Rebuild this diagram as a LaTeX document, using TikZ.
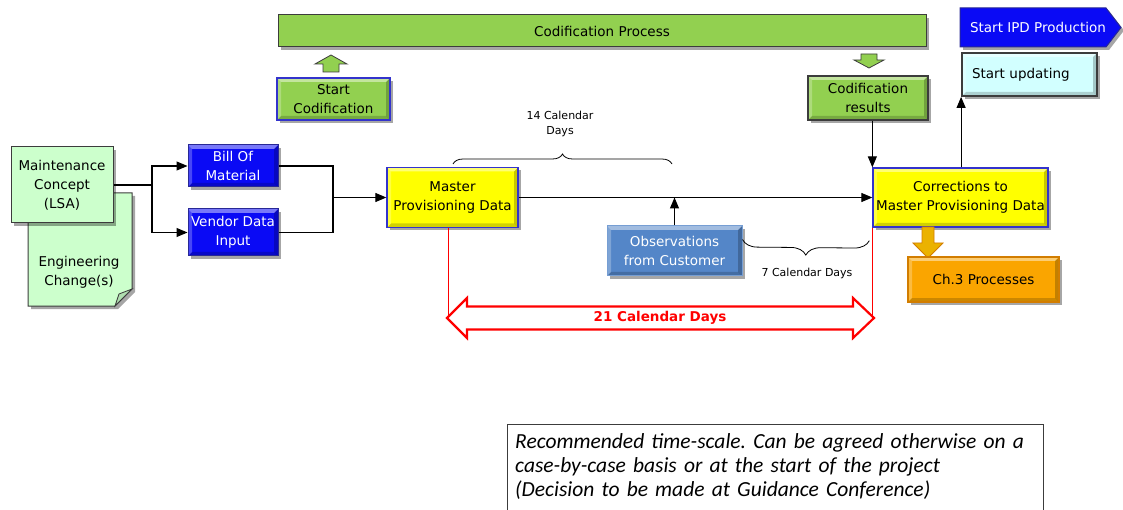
\documentclass[tikz,border=0pt]{standalone}
\usepackage{fontspec}
\setmainfont{DejaVu Sans}
\newfontfamily\notefont{Carlito}
\usetikzlibrary{arrows.meta,shadows,calc,decorations.pathreplacing}

\definecolor{cgreen}{RGB}{146,208,80}
\definecolor{cpale}{RGB}{204,255,204}
\definecolor{cfold}{RGB}{175,222,175}
\definecolor{cblue}{RGB}{10,10,245}
\definecolor{cbluedk}{RGB}{40,40,150}
\definecolor{cyel}{RGB}{255,255,0}
\definecolor{cyeldk}{RGB}{51,51,204}
\definecolor{cobs}{RGB}{84,134,200}
\definecolor{corg}{RGB}{250,165,0}
\definecolor{corgdk}{RGB}{210,125,0}
\definecolor{cgold}{RGB}{235,178,0}
\definecolor{ccyan}{RGB}{210,255,255}
\definecolor{cline}{RGB}{60,60,60}

\tikzset{
  shade3d/.style={drop shadow={shadow xshift=3pt,shadow yshift=-3pt,opacity=.35,fill=black}},
  bevel/.style={path picture={
    \fill[white,opacity=.45] (path picture bounding box.north west) -- (path picture bounding box.north east)
      -- ($(path picture bounding box.north east)+(-4pt,-4pt)$) -- ($(path picture bounding box.north west)+(4pt,-4pt)$) -- cycle;
    \fill[white,opacity=.25] (path picture bounding box.north west) -- (path picture bounding box.south west)
      -- ($(path picture bounding box.south west)+(4pt,4pt)$) -- ($(path picture bounding box.north west)+(4pt,-4pt)$) -- cycle;
    \fill[black,opacity=.18] (path picture bounding box.south west) -- (path picture bounding box.south east)
      -- ($(path picture bounding box.south east)+(-4pt,4pt)$) -- ($(path picture bounding box.south west)+(4pt,4pt)$) -- cycle;
    \fill[black,opacity=.22] (path picture bounding box.north east) -- (path picture bounding box.south east)
      -- ($(path picture bounding box.south east)+(-4pt,4pt)$) -- ($(path picture bounding box.north east)+(-4pt,-4pt)$) -- cycle;
  }},
  box/.style={draw, line width=1pt, align=center, inner sep=2pt, shade3d},
  greenbox/.style={box, bevel, fill=cgreen, draw=cline, line width=1.5pt},
  bluebox/.style={box, bevel, fill=cblue, draw=cbluedk, text=white},
  yelbox/.style={box, bevel, fill=cyel, draw=cyeldk, line width=1.3pt},
  flow/.style={line width=1.1pt, -{Triangle[length=11pt,width=9pt]}},
  plain/.style={line width=1.1pt},
  brc/.style={decorate, line width=.8pt},
  small/.style={font=\fontsize{11}{15}\selectfont, align=center},
}

\begin{document}
\begin{tikzpicture}[x=1pt, y=-1pt, font=\fontsize{13.5}{19}\selectfont]
\clip (0,0) rectangle (1123,510);
\fill[white] (0,0) rectangle (1123,510);

% codification band and its two block arrows
\node[box, fill=cgreen, draw=cline, minimum width=648pt, minimum height=32pt] (codproc) at (602,31) {Codification Process};
\filldraw[fill=cgreen, draw=cline, line width=.8pt]
  (331,55) -- (347,64) -- (339,64) -- (339,72) -- (323,72) -- (323,64) -- (315,64) -- cycle;
\filldraw[fill=cgreen, draw=cline, line width=.8pt]
  (869,68) -- (884,60) -- (877,60) -- (877,54) -- (861,54) -- (861,60) -- (854,60) -- cycle;

\node[greenbox, draw=cyeldk, minimum width=113pt, minimum height=42pt] (startcod) at (333.5,99) {Start\\Codification};
\node[greenbox, minimum width=120pt, minimum height=44pt] (codres) at (868,98) {Codification\\results};

% IPD production flag and updating box
\filldraw[fill=cblue, draw=cbluedk, line width=1pt, shade3d]
  (960,8) -- (1106,8) -- (1121,27.5) -- (1106,47) -- (960,47) -- cycle;
\node[text=white] (ipd) at (1038,27.5) {Start IPD Production};
\node[box, bevel, fill=ccyan, draw=cline, line width=1.8pt, minimum width=135pt, minimum height=43pt,
      text width=115pt, align=left, inner xsep=10pt] (upd) at (1029.5,74.5) {Start updating};

% sources
\filldraw[fill=cpale, draw=cline, line width=1pt, shade3d]
  (28,193) -- (132,193) -- (132,289) -- (115,306) -- (28,306) -- cycle;
\filldraw[fill=cfold, draw=cline, line width=.8pt] (115,306) -- (119,294) -- (132,289) -- cycle;
\node[align=center] (eng) at (79,272) {Engineering\\Change(s)};
\node[box, fill=cpale, draw=cline, minimum width=102pt, minimum height=76pt] (maint) at (62,185) {Maintenance\\Concept\\(LSA)};

\node[bluebox, minimum width=90pt, minimum height=42pt] (bill) at (233,166) {Bill Of\\Material};
\node[bluebox, minimum width=90pt, minimum height=47pt] (vendor) at (233,232.5) {Vendor Data\\Input};

\node[yelbox, minimum width=131pt, minimum height=60pt] (master) at (452.5,197.5) {Master\\Provisioning Data};
\node[yelbox, minimum width=175pt, minimum height=59pt, inner xsep=1pt] (corr) at (960.5,197.5) {Corrections to\\Master Provisioning Data};
\node[box, bevel, fill=cobs, draw=cobs!80!white, text=white, minimum width=135pt, minimum height=50pt] (obs) at (674.5,251) {Observations\\from Customer};

% Ch.3 branch
\filldraw[fill=cgold, draw=corgdk, line width=.8pt]
  (922,227) -- (934,227) -- (934,243) -- (943,243) -- (928,258) -- (913,243) -- (922,243) -- cycle;
\node[box, bevel, fill=corg, draw=corgdk, line width=1.2pt, minimum width=151pt, minimum height=45pt] (ch3) at (983.5,279.5) {Ch.3 Processes};

% connectors
\coordinate (j1) at (152,185);
\coordinate (j2) at (333,197.5);
\draw[plain] (maint.east) -- (j1);
\draw[flow] (j1) |- (bill.west);
\draw[flow] (j1) |- (vendor.west);
\draw[plain] (bill.east) -| (j2);
\draw[plain] (vendor.east) -| (j2);
\draw[flow] (j2) -- (master.west);
\draw[flow] (master.east) -- (corr.west);
\draw[flow] (obs.north) -- (obs.north |- master.east);
\draw[flow] (codres.south -| corr.north west) -- (corr.north west);
\draw[flow] (corr.north -| upd.south west) -- (upd.south west);

% durations
\draw[brc, decoration={brace, amplitude=10pt}] (453,164) -- (672,164);
\node[small] (d14) at (560,124) {14 Calendar\\Days};
\draw[brc, decoration={brace, mirror, amplitude=15pt}] ($(obs.north east)+(0,14)$) -- ($(corr.south west)+(-3,13)$);
\node[small] (d7) at (807,273) {7 Calendar Days};

\draw[red, line width=1pt] (448,228) -- (448,318);
\draw[red, line width=1pt] (corr.south west) -- (corr.south west |- 0,318);
\draw[red, line width=2.2pt, fill=white, line join=miter]
  (447,318) -- (467,298) -- (467,306.5) -- (853,306.5) -- (853,298) -- (874,318)
  -- (853,338) -- (853,329.5) -- (467,329.5) -- (467,338) -- cycle;
\node[text=red, font=\fontsize{13.5}{16}\selectfont\bfseries] (d21) at (660,318) {21 Calendar Days};

% note: frame running past the lower edge, text inside it
\draw[cline, line width=1pt] (507,424) rectangle (1043,530);
\node[anchor=north west, text width=520pt, align=left, inner xsep=8pt, inner ysep=7pt,
      font=\notefont\itshape\fontsize{21.5}{24}\selectfont\frenchspacing] (note) at (507,426)
  {Recommended time-scale. Can be agreed otherwise on a\\
   case-by-case basis or at the start of the project\\
   (Decision to be made at Guidance Conference)};
\end{tikzpicture}
\end{document}
